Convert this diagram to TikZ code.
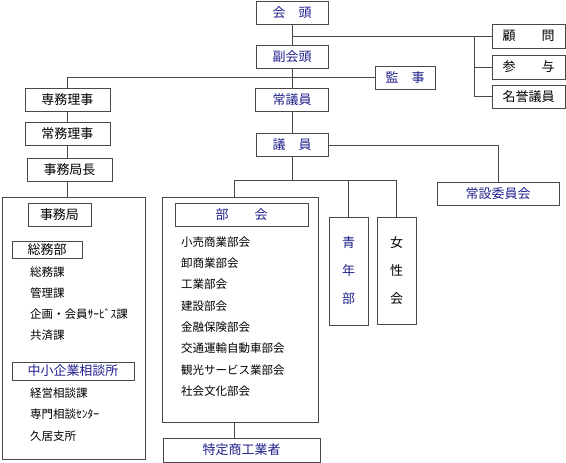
\documentclass[tikz,border=0pt]{standalone}
\usepackage{fontspec}
\usepackage{xcolor}
\usepackage{tikz}
\usetikzlibrary{positioning,calc}
\newfontfamily\jp{Noto Sans CJK JP}
\definecolor{deptBlue}{RGB}{32,32,140}
\definecolor{lineG}{RGB}{72,72,72}

\begin{document}
\begin{tikzpicture}[x=1pt,y=-1pt,
  every node/.style={font=\jp\fontsize{13}{15}\selectfont,inner sep=0pt},
  box/.style={draw=lineG,line width=0.9pt,minimum height=23pt},
  blu/.style={text=deptBlue},
  item/.style={anchor=west,font=\jp\fontsize{11.5}{13}\selectfont},
  vert/.style={align=center,font=\jp\fontsize{13}{28}\selectfont},
  link/.style={draw=lineG,line width=0.8pt}]
  \useasboundingbox (0,0) rectangle (566,463);

  \node[box,blu,minimum width=72pt] (kaito) at (292,12.5) {会　頭};
  \node[box,blu,minimum width=72pt] (fuku) at (292,56.5) {副会頭};
  \node[box,blu,minimum width=73pt] (jogi) at (292,100) {常議員};
  \node[box,blu,minimum width=72pt] (giin) at (292,145) {議　員};
  \node[box,minimum width=73pt,minimum height=24pt] (komon) at (528.5,36) {顧　　問};
  \node[box,minimum width=73pt,minimum height=24pt] (sanyo) at (528.5,67) {参　　与};
  \node[box,minimum width=73pt] (meiyo) at (528.5,96.5) {名誉議員};
  \node[box,blu,minimum width=60pt] (kanji) at (405,77.5) {監　事};

  \node[box,minimum width=85pt] (senmu) at (67.5,99.5) {専務理事};
  \node[box,minimum width=85pt] (jomu) at (67.5,134) {常務理事};
  \node[box,minimum width=85pt] (kyokucho) at (69.5,169.5) {事務局長};

  \node[box,minimum width=143pt,minimum height=262pt] (jimu) at (73.5,328) {};
  \node[box,minimum width=63pt] (jimuhd) at (59.5,214.5) {事務局};
  \node[box,minimum width=70pt,minimum height=17pt] (somu) at (47,249.5) {総務部};
  \foreach \t [count=\i] in {総務課,管理課,企画・会員ｻｰﾋﾞｽ課,共済課}
    \node[item] (somu\i) at (30,251.5+21*\i) {\t};
  \node[box,blu,minimum width=122pt,minimum height=18pt] (chusho) at (73,371) {中小企業相談所};
  \foreach \t [count=\i] in {経営相談課,専門相談ｾﾝﾀｰ,久居支所}
    \node[item] (chusho\i) at (30,371.5+21.5*\i) {\t};

  \node[box,minimum width=156pt,minimum height=225pt] (bkbox) at (240,309.5) {};
  \node[box,blu,minimum width=133pt] (bkhd) at (241.5,214.5) {部　　会};
  \foreach \t [count=\i] in {小売商業部会,卸商業部会,工業部会,建設部会,金融保険部会,交通運輸自動車部会,観光サービス業部会,社会文化部会}
    \node[item] (bk\i) at (181,220.7+21.3*\i) {\t};
  \node[box,blu,minimum width=157pt,minimum height=24pt] (toku) at (241.5,450) {特定商工業者};

  \node[box,blu,vert,minimum width=39pt,minimum height=108pt] (seinen) at (348.5,271) {青\\年\\部};
  \node[box,vert,minimum width=39pt,minimum height=107pt] (josei) at (396.5,270.5) {女\\性\\会};
  \node[box,blu,minimum width=122pt] (josetsu) at (498,193.5) {常設委員会};

  \coordinate (adv) at (474,36);
  \coordinate (bj) at (234,180);

  \draw[link] (kaito) -- (fuku);
  \draw[link] (kaito.south |- komon.west) -- (komon.west);
  \draw[link] (adv) |- (meiyo.west);
  \draw[link] (adv |- sanyo.west) -- (sanyo.west);
  \draw[link] (fuku) -- (jogi);
  \draw[link] (jogi) -- (giin);
  \draw[link] (senmu.north) |- (kanji.west);
  \draw[link] (senmu) -- (jomu);
  \draw[link] (jomu.south) -- (jomu.south |- kyokucho.north);
  \draw[link] (kyokucho.south -| jomu.south) -- (jimu.north -| jomu.south);
  \draw[link] (giin.south) -- (giin.south |- bj);
  \draw[link] (bj) -| (josei.north);
  \draw[link] (seinen.north |- bj) -- (seinen.north);
  \draw[link] (bj) -- (bj |- bkbox.north);
  \draw[link] (bkbox.south -| bj) -- (toku.north -| bj);
  \draw[link] (giin.east) -| (josetsu.north);
\end{tikzpicture}
\end{document}
